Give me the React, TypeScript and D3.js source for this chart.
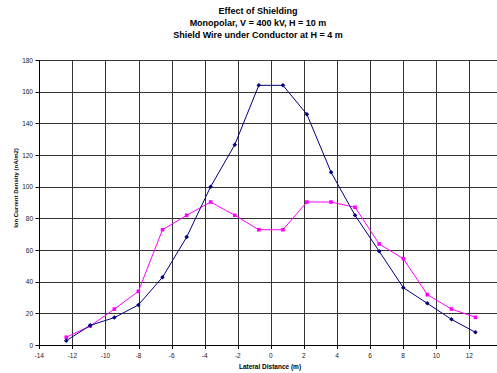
import React from "react";
import * as d3 from "d3";

const xValues = [-12.37, -10.92, -9.46, -8.01, -6.55, -5.09, -3.64, -2.18, -0.73, 0.73, 2.18, 3.64, 5.09, 6.55, 8.01, 9.46, 10.92, 12.37];
const noShield = [2.7, 12.4, 17.3, 25.3, 42.8, 68.2, 100, 126.5, 164, 164, 145.7, 109.1, 81.9, 59.2, 36.2, 26.3, 16.2, 8.0];
const withShield = [4.9, 12.0, 22.7, 33.9, 72.8, 81.9, 90.3, 81.9, 72.8, 72.8, 90.3, 90.3, 87.0, 63.8, 54.5, 31.8, 22.7, 17.5];
const xTicks = [-14, -12, -10, -8, -6, -4, -2, 0, 2, 4, 6, 8, 10, 12];
const yTicks = [0, 20, 40, 60, 80, 100, 120, 140, 160, 180];
const titleLines = ["Effect of Shielding", "Monopolar, V = 400 kV, H = 10 m", "Shield Wire under Conductor at H = 4 m"];

export default function App() {
  const W = 497, H = 373;
  const x = d3.scaleLinear().domain([-14, 14]).range([39.3, 502.4]);
  const y = d3.scaleLinear().domain([0, 180]).range([345, 60]);
  const line = d3.line<number>().x((_, i) => x(xValues[i])).y((d) => y(d));
  const font = "'Liberation Sans', Arial, sans-serif";
  return (
    <svg width={W} height={H} style={{ position: "absolute", left: 0, top: 0, background: "#fff" }} fontFamily={font}>
      {titleLines.map((t, i) => (
        <text key={i} x={258} y={14 + i * 12} textAnchor="middle" fontSize={9} fontWeight="bold" fill="#000">{t}</text>
      ))}
      {yTicks.map((t) => (
        <g key={"y" + t}>
          <line x1={x(-14)} x2={W} y1={Math.round(y(t)) + 0.5} y2={Math.round(y(t)) + 0.5} stroke={t === 0 ? "#000" : "#333"} strokeWidth={1} />
          <line x1={35.5} x2={x(-14)} y1={Math.round(y(t)) + 0.5} y2={Math.round(y(t)) + 0.5} stroke="#000" />
          <text x={33} y={y(t) + 2.5} textAnchor="end" fontSize={6.5} fill="#222">{t}</text>
        </g>
      ))}
      {xTicks.map((t) => (
        <g key={"x" + t}>
          <line x1={Math.round(x(t)) + 0.5} x2={Math.round(x(t)) + 0.5} y1={y(180)} y2={y(0)} stroke={t === -14 ? "#000" : "#333"} strokeWidth={1} />
          <line x1={Math.round(x(t)) + 0.5} x2={Math.round(x(t)) + 0.5} y1={y(0)} y2={y(0) + 4} stroke="#000" />
          <text x={x(t)} y={358} textAnchor="middle" fontSize={6.5} fill="#222">{t}</text>
        </g>
      ))}
      <text transform={`translate(17.5,188) rotate(-90)`} textAnchor="middle" fontSize={6} fontWeight="bold" fill="#000">Ion Current Density (nA/m2)</text>
      <text x={270} y={369} textAnchor="middle" fontSize={6.5} fontWeight="bold" fill="#000">Lateral Distance (m)</text>
      <path d={line(withShield) || ""} fill="none" stroke="#ff00ff" strokeWidth={1} />
      {withShield.map((v, i) => (
        <rect key={"p" + i} x={x(xValues[i]) - 1.8} y={y(v) - 1.8} width={3.6} height={3.6} fill="#ff00ff" />
      ))}
      <path d={line(noShield) || ""} fill="none" stroke="#000080" strokeWidth={1} />
      {noShield.map((v, i) => (
        <rect key={"b" + i} x={-1.6} y={-1.6} width={3.2} height={3.2} fill="#000080" transform={`translate(${x(xValues[i])},${y(v)}) rotate(45)`} />
      ))}
    </svg>
  );
}
